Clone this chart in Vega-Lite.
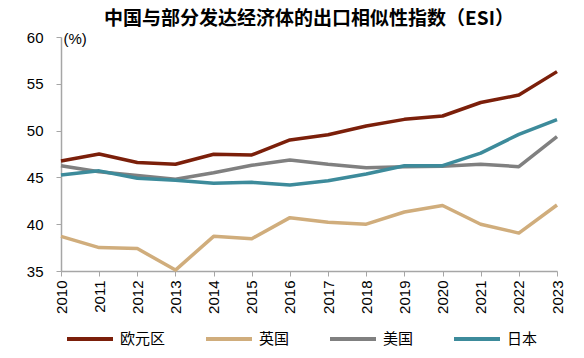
{
  "$schema": "https://vega.github.io/schema/vega-lite/v6.json",
  "autosize": "none",
  "width": 496,
  "height": 234,
  "padding": {"left": 61, "top": 37, "right": 27, "bottom": 87},
  "background": "white",
  "title": {
    "text": "中国与部分发达经济体的出口相似性指数（ESI）",
    "font": "Noto Sans CJK SC",
    "fontSize": 19,
    "fontWeight": "bold",
    "color": "#000000",
    "anchor": "middle",
    "frame": "group",
    "offset": 1
  },
  "data": {
    "values": [
      {"year": "2010", "region": "欧元区", "value": 46.75},
      {"year": "2011", "region": "欧元区", "value": 47.5},
      {"year": "2012", "region": "欧元区", "value": 46.6},
      {"year": "2013", "region": "欧元区", "value": 46.4},
      {"year": "2014", "region": "欧元区", "value": 47.47},
      {"year": "2015", "region": "欧元区", "value": 47.4},
      {"year": "2016", "region": "欧元区", "value": 49.0},
      {"year": "2017", "region": "欧元区", "value": 49.56},
      {"year": "2018", "region": "欧元区", "value": 50.5},
      {"year": "2019", "region": "欧元区", "value": 51.2},
      {"year": "2020", "region": "欧元区", "value": 51.56},
      {"year": "2021", "region": "欧元区", "value": 53.0},
      {"year": "2022", "region": "欧元区", "value": 53.8},
      {"year": "2023", "region": "欧元区", "value": 56.3},
      {"year": "2010", "region": "英国", "value": 38.7},
      {"year": "2011", "region": "英国", "value": 37.5},
      {"year": "2012", "region": "英国", "value": 37.4},
      {"year": "2013", "region": "英国", "value": 35.1},
      {"year": "2014", "region": "英国", "value": 38.7},
      {"year": "2015", "region": "英国", "value": 38.45},
      {"year": "2016", "region": "英国", "value": 40.7},
      {"year": "2017", "region": "英国", "value": 40.2},
      {"year": "2018", "region": "英国", "value": 40.0},
      {"year": "2019", "region": "英国", "value": 41.3},
      {"year": "2020", "region": "英国", "value": 42.0},
      {"year": "2021", "region": "英国", "value": 40.0},
      {"year": "2022", "region": "英国", "value": 39.05},
      {"year": "2023", "region": "英国", "value": 42.05},
      {"year": "2010", "region": "美国", "value": 46.25},
      {"year": "2011", "region": "美国", "value": 45.6},
      {"year": "2012", "region": "美国", "value": 45.2},
      {"year": "2013", "region": "美国", "value": 44.8},
      {"year": "2014", "region": "美国", "value": 45.5},
      {"year": "2015", "region": "美国", "value": 46.3},
      {"year": "2016", "region": "美国", "value": 46.86},
      {"year": "2017", "region": "美国", "value": 46.4},
      {"year": "2018", "region": "美国", "value": 46.04},
      {"year": "2019", "region": "美国", "value": 46.15},
      {"year": "2020", "region": "美国", "value": 46.2},
      {"year": "2021", "region": "美国", "value": 46.4},
      {"year": "2022", "region": "美国", "value": 46.15},
      {"year": "2023", "region": "美国", "value": 49.35},
      {"year": "2010", "region": "日本", "value": 45.25},
      {"year": "2011", "region": "日本", "value": 45.7},
      {"year": "2012", "region": "日本", "value": 44.9},
      {"year": "2013", "region": "日本", "value": 44.7},
      {"year": "2014", "region": "日本", "value": 44.37},
      {"year": "2015", "region": "日本", "value": 44.47},
      {"year": "2016", "region": "日本", "value": 44.2},
      {"year": "2017", "region": "日本", "value": 44.65},
      {"year": "2018", "region": "日本", "value": 45.36},
      {"year": "2019", "region": "日本", "value": 46.25},
      {"year": "2020", "region": "日本", "value": 46.25},
      {"year": "2021", "region": "日本", "value": 47.6},
      {"year": "2022", "region": "日本", "value": 49.6},
      {"year": "2023", "region": "日本", "value": 51.17}
    ]
  },
  "mark": {"type": "line", "strokeWidth": 3.5, "strokeJoin": "round", "clip": false},
  "encoding": {
    "x": {
      "field": "year",
      "type": "ordinal",
      "scale": {"type": "point", "padding": 0},
      "axis": {
        "title": null,
        "labelAngle": 270,
        "labelFont": "Liberation Sans",
        "labelFontSize": 15,
        "labelColor": "#000000",
        "labelPadding": 4,
        "tickSize": 5,
        "tickColor": "#a6a6a6",
        "domainColor": "#a6a6a6",
        "domainWidth": 1.5,
        "grid": false
      }
    },
    "y": {
      "field": "value",
      "type": "quantitative",
      "scale": {"domain": [35, 60], "nice": false, "zero": false},
      "axis": {
        "values": [35, 40, 45, 50, 55, 60],
        "title": "(%)",
        "titleAngle": 0,
        "titleX": 2,
        "titleY": 1.5,
        "titleAlign": "left",
        "titleBaseline": "middle",
        "titleFont": "Liberation Sans",
        "titleFontSize": 15,
        "titleFontWeight": "normal",
        "titleColor": "#000000",
        "labelFont": "Liberation Sans",
        "labelFontSize": 15,
        "labelColor": "#000000",
        "labelPadding": 13,
        "tickSize": 5,
        "tickColor": "#a6a6a6",
        "domainColor": "#a6a6a6",
        "domainWidth": 1.5,
        "grid": false
      }
    },
    "color": {
      "field": "region",
      "type": "nominal",
      "scale": {
        "domain": ["欧元区", "英国", "美国", "日本"],
        "range": ["#7b1f0a", "#d0ad7c", "#808080", "#3d8b9b"]
      },
      "legend": {
        "title": null,
        "orient": "none",
        "direction": "horizontal",
        "legendX": 4,
        "legendY": 277,
        "padding": 0,
        "symbolType": "stroke",
        "symbolSize": 2116,
        "symbolStrokeWidth": 4,
        "labelFont": "Noto Sans CJK SC",
        "labelFontSize": 15,
        "labelColor": "#000000",
        "labelOffset": 5,
        "columnPadding": 32
      }
    }
  },
  "config": {"view": {"stroke": null}}
}
